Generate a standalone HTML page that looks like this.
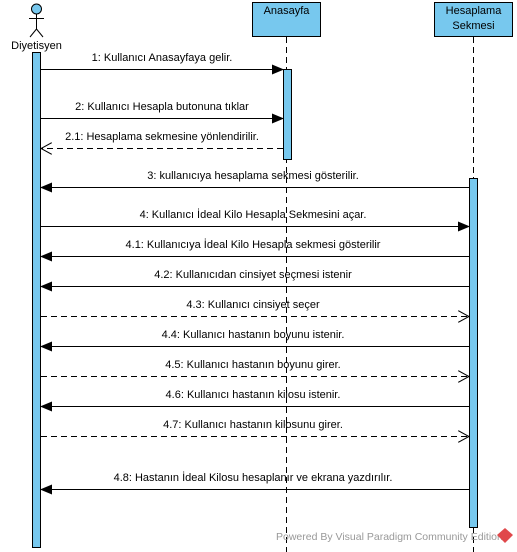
<!DOCTYPE html>
<html><head><meta charset="utf-8"><style>
html,body{margin:0;padding:0;background:#fff;}
svg{display:block;}
text{font-family:"Liberation Sans",sans-serif;font-size:11px;fill:#000;}
</style></head><body>
<svg width="517" height="552" viewBox="0 0 517 552" xmlns="http://www.w3.org/2000/svg">
<defs>
<marker id="f" markerWidth="12" markerHeight="10" refX="11" refY="5" orient="auto" markerUnits="userSpaceOnUse"><path d="M0,0 L12,5 L0,10 Z" fill="#000"/></marker>
<marker id="o" markerWidth="12" markerHeight="12" refX="11" refY="6" orient="auto" markerUnits="userSpaceOnUse"><path d="M0,0 L11,6 L0,12" fill="none" stroke="#000" stroke-width="1"/></marker>
</defs>
<line x1="286.5" y1="37" x2="286.5" y2="552" stroke="#000" stroke-dasharray="6,4"/>
<line x1="473.5" y1="37" x2="473.5" y2="552" stroke="#000" stroke-dasharray="6,4"/>
<rect x="252.5" y="2.5" width="68" height="34" fill="#77C8EE" stroke="#000"/>
<text x="286.5" y="14" text-anchor="middle">Anasayfa</text>
<rect x="434.5" y="2.5" width="78" height="34" fill="#77C8EE" stroke="#000"/>
<text x="473.5" y="14" text-anchor="middle">Hesaplama</text>
<text x="473.5" y="29" text-anchor="middle">Sekmesi</text>
<circle cx="36.5" cy="9" r="5" fill="#77C8EE" stroke="#000"/>
<line x1="36.5" y1="14" x2="36.5" y2="29" stroke="#000"/>
<line x1="29" y1="18.5" x2="44" y2="18.5" stroke="#000"/>
<line x1="36.5" y1="29" x2="30" y2="37" stroke="#000"/>
<line x1="36.5" y1="29" x2="43" y2="37" stroke="#000"/>
<text x="36.5" y="49" text-anchor="middle">Diyetisyen</text>
<rect x="32.5" y="52.5" width="8" height="495" fill="#77C8EE" stroke="#000"/>
<rect x="283.5" y="69.5" width="8" height="90" fill="#77C8EE" stroke="#000"/>
<rect x="469.5" y="178.5" width="8" height="349" fill="#77C8EE" stroke="#000"/>
<g stroke="#000" stroke-width="1">
<line x1="41" y1="69.5" x2="283" y2="69.5" marker-end="url(#f)"/>
<line x1="41" y1="118.5" x2="283" y2="118.5" marker-end="url(#f)"/>
<line x1="283" y1="148.5" x2="41" y2="148.5" stroke-dasharray="6,4" marker-end="url(#o)"/>
<line x1="469" y1="187.5" x2="41" y2="187.5" marker-end="url(#f)"/>
<line x1="41" y1="226.5" x2="469" y2="226.5" marker-end="url(#f)"/>
<line x1="469" y1="256.5" x2="41" y2="256.5" marker-end="url(#f)"/>
<line x1="469" y1="286.5" x2="41" y2="286.5" marker-end="url(#f)"/>
<line x1="41" y1="316.5" x2="469" y2="316.5" stroke-dasharray="6,4" marker-end="url(#o)"/>
<line x1="469" y1="346.5" x2="41" y2="346.5" marker-end="url(#f)"/>
<line x1="41" y1="376.5" x2="469" y2="376.5" stroke-dasharray="6,4" marker-end="url(#o)"/>
<line x1="469" y1="406.5" x2="41" y2="406.5" marker-end="url(#f)"/>
<line x1="41" y1="436.5" x2="469" y2="436.5" stroke-dasharray="6,4" marker-end="url(#o)"/>
<line x1="469" y1="489.5" x2="41" y2="489.5" marker-end="url(#f)"/>
</g>
<g text-anchor="middle">
<text x="162" y="61">1: Kullanıcı Anasayfaya gelir.</text>
<text x="162" y="110">2: Kullanıcı Hesapla butonuna tıklar</text>
<text x="162" y="140">2.1: Hesaplama sekmesine yönlendirilir.</text>
<text x="253" y="179">3: kullanıcıya hesaplama sekmesi gösterilir.</text>
<text x="253" y="218">4: Kullanıcı İdeal Kilo Hesapla Sekmesini açar.</text>
<text x="253" y="248">4.1: Kullanıcıya İdeal Kilo Hesapla sekmesi gösterilir</text>
<text x="253" y="278">4.2: Kullanıcıdan cinsiyet seçmesi istenir</text>
<text x="253" y="308">4.3: Kullanıcı cinsiyet seçer</text>
<text x="253" y="338">4.4: Kullanıcı hastanın boyunu istenir.</text>
<text x="253" y="368">4.5: Kullanıcı hastanın boyunu girer.</text>
<text x="253" y="398">4.6: Kullanıcı hastanın kilosu istenir.</text>
<text x="253" y="428">4.7: Kullanıcı hastanın kilosunu girer.</text>
<text x="253" y="481">4.8: Hastanın İdeal Kilosu  hesaplanır ve ekrana yazdırılır.</text>
</g>
<text x="276" y="540" style="fill:#999;font-size:10.5px">Powered By  Visual Paradigm Community Edition</text>
<path d="M505,528 L513,535 L505,543 L497,535 Z" fill="#E0484B"/>
</svg>
</body></html>
